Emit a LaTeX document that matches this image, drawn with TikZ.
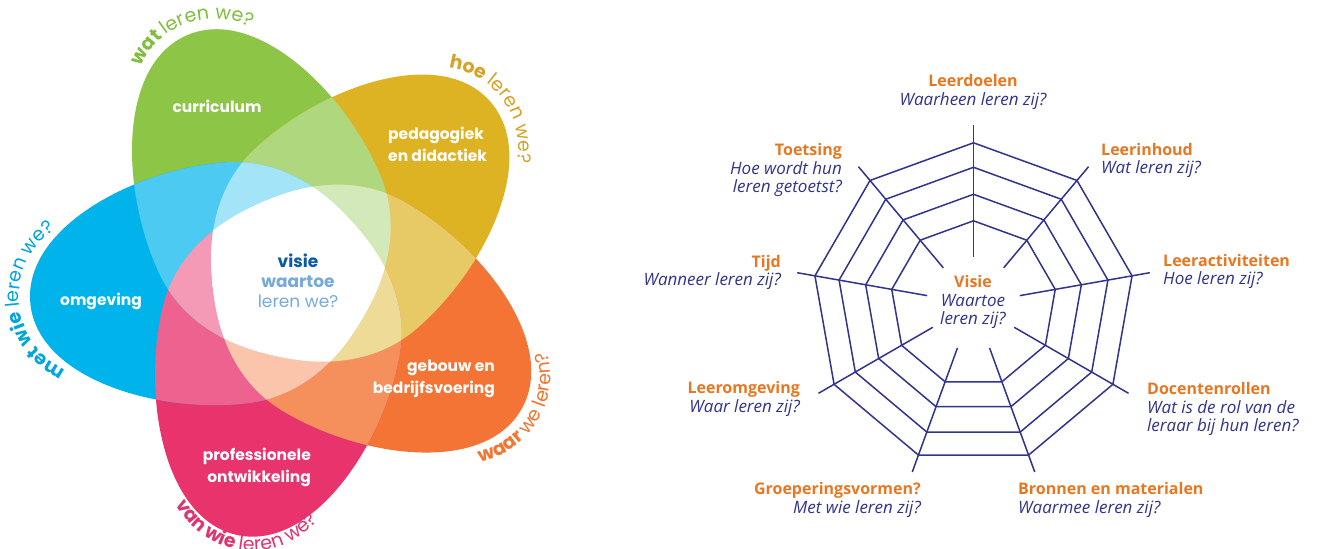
\documentclass[tikz,border=0pt]{standalone}
\usepackage{fontspec}
\setmainfont{Open Sans}
\newfontfamily\pop{Poppins}
\usetikzlibrary{decorations.text}
\definecolor{cG}{RGB}{141,198,70}
\definecolor{cY}{RGB}{221,178,35}
\definecolor{cO}{RGB}{243,116,53}
\definecolor{cP}{RGB}{232,51,109}
\definecolor{cB}{RGB}{0,180,235}
\definecolor{lG}{RGB}{128,190,60}
\definecolor{lY}{RGB}{212,163,40}
\definecolor{lO}{RGB}{240,118,50}
\definecolor{lP}{RGB}{222,52,112}
\definecolor{lB}{RGB}{0,165,220}
\definecolor{visD}{RGB}{10,90,165}
\definecolor{visL}{RGB}{118,170,218}
\definecolor{webC}{RGB}{48,52,140}
\definecolor{webO}{RGB}{232,119,34}
\newcommand\petal[1]{[shift={(293,272)},rotate=#1] (-90,0) .. controls (-72,50) and (-20,121) .. (60,121) .. controls (150,122) and (264,75) .. (264,0) .. controls (264,-75) and (150,-122) .. (60,-121) .. controls (-20,-121) and (-72,-50) .. (-90,0) -- cycle}
\def\aG{113.8}\def\aY{41.8}\def\aO{-30.2}\def\aP{-102.2}\def\aB{-174.2}
\newcommand\lfont{\pop\fontsize{19}{19}\selectfont}
\tikzset{
  ptext/.style={text=white, font=\pop\bfseries\fontsize{15.5}{22}\selectfont, inner sep=0pt},
  wlab/.style={text=webC, font=\fontsize{17}{18.6}\selectfont\itshape, inner sep=0pt},
  webline/.style={draw=webC, line width=1.5pt},
}
\newcommand\ttl[1]{{\fontsize{16}{18.6}\selectfont\textcolor{webO}{\upshape\bfseries #1}}}
\begin{document}
\begin{tikzpicture}[x=1pt,y=1pt]
\useasboundingbox (0,0) rectangle (1318,549);
\fill[white] (0,0) rectangle (1318,549);
% ---------- flower: single petals ----------
\fill[cG]\petal{\aG};
\fill[cY]\petal{\aY};
\fill[cO]\petal{\aO};
\fill[cP]\petal{\aP};
\fill[cB]\petal{\aB};
% ---------- two overlaps ----------
\begin{scope}\clip\petal{\aG};\fill[cG!70!white]\petal{\aY};\end{scope}
\begin{scope}\clip\petal{\aY};\fill[cY!70!white]\petal{\aO};\end{scope}
\begin{scope}\clip\petal{\aO};\fill[cO!80!white]\petal{\aP};\end{scope}
\begin{scope}\clip\petal{\aP};\fill[cP!77!white]\petal{\aB};\end{scope}
\begin{scope}\clip\petal{\aB};\fill[cB!70!white]\petal{\aG};\end{scope}
% ---------- three overlaps ----------
\begin{scope}\clip\petal{\aG};\clip\petal{\aY};\fill[cG!38!white]\petal{\aO};\end{scope}
\begin{scope}\clip\petal{\aY};\clip\petal{\aO};\fill[cY!47!white]\petal{\aP};\end{scope}
\begin{scope}\clip\petal{\aO};\clip\petal{\aP};\fill[cO!42!white]\petal{\aB};\end{scope}
\begin{scope}\clip\petal{\aP};\clip\petal{\aB};\fill[cP!50!white]\petal{\aG};\end{scope}
\begin{scope}\clip\petal{\aB};\clip\petal{\aG};\fill[cB!36!white]\petal{\aY};\end{scope}
% ---------- four or five overlaps ----------
\begin{scope}\clip\petal{\aG};\clip\petal{\aY};\clip\petal{\aO};\fill[white]\petal{\aP};\end{scope}
\begin{scope}\clip\petal{\aY};\clip\petal{\aO};\clip\petal{\aP};\fill[white]\petal{\aB};\end{scope}
\begin{scope}\clip\petal{\aO};\clip\petal{\aP};\clip\petal{\aB};\fill[white]\petal{\aG};\end{scope}
\begin{scope}\clip\petal{\aP};\clip\petal{\aB};\clip\petal{\aG};\fill[white]\petal{\aY};\end{scope}
\begin{scope}\clip\petal{\aB};\clip\petal{\aG};\clip\petal{\aY};\fill[white]\petal{\aO};\end{scope}
% ---------- petal texts ----------
\node[ptext] (curr) at (217,443) {curriculum};
\node[ptext, anchor=west, align=left] (peda) at (388,404.5) {pedagogiek\\en didactiek};
\node[ptext] (omg) at (101,248) {omgeving};
\node[ptext, anchor=east, align=right] (geb) at (495,170) {gebouw en\\bedrijfsvoering};
\node[ptext, anchor=east, align=right] (prof) at (311,81.5) {professionele\\ontwikkeling};
\node[inner sep=0pt, align=center, font=\pop\fontsize{17}{20}\selectfont] (visie) at (298,268)
  {\textcolor{visD}{\bfseries visie}\\\textcolor{visL}{\bfseries waartoe}\\\textcolor{visL}{leren we?}};
% ---------- curved labels ----------
\path[decorate, decoration={text along path, text align=center,
  text={|\lfont\bfseries\color{lG}|wat |\lfont\color{lG}|leren we?}}]
  [shift={(293,272)},rotate=\aG] (195,0) ++(50:80) arc[start angle=50, end angle=-58, radius=80];
\path[decorate, decoration={text along path, text align=center,
  text={|\lfont\bfseries\color{lY}|hoe |\lfont\color{lY}|leren we?}}]
  [shift={(293,272)},rotate=\aY] (195,0) ++(44:80) arc[start angle=44, end angle=-56, radius=80];
\path[decorate, decoration={text along path, text align=center,
  text={|\lfont\bfseries\color{lO}|waar |\lfont\color{lO}|we leren?}}]
  [shift={(293,272)},rotate=\aO] (195,0) ++(-68:89) arc[start angle=-68, end angle=66, radius=89];
\path[decorate, decoration={text along path, text align=center,
  text={|\lfont\bfseries\color{lP}|van wie |\lfont\color{lP}|leren we?}}]
  [shift={(293,272)},rotate=\aP] (192,0) ++(-76:86) arc[start angle=-76, end angle=88, radius=86];
\path[decorate, decoration={text along path, text align=center,
  text={|\lfont\bfseries\color{lB}|met wie |\lfont\color{lB}|leren we?}}]
  [shift={(293,272)},rotate=\aB] (195,0) ++(70:80) arc[start angle=70, end angle=-73, radius=80];
% ---------- spider web ----------
\begin{scope}[shift={(973.5,245.2)}]
  \foreach \r in {83,109.5,136.5,161}
    \draw[webline, line join=miter] (90:\r) \foreach \a in {130,170,...,410} { -- (\a:\r) } -- cycle;
  \foreach \a in {90,130,...,410}
    \draw[webline] (\a:47) -- (\a:179);
\end{scope}
\node[wlab, align=center] (doel) at (973,457) {\ttl{Leerdoelen}\\Waarheen leren zij?};
\node[wlab, align=right, anchor=east] (toets) at (842,379) {\ttl{Toetsing}\\Hoe wordt hun\\leren getoetst?};
\node[wlab, align=left, anchor=west] (inh) at (1101,388.5) {\ttl{Leerinhoud}\\Wat leren zij?};
\node[wlab, align=right, anchor=east] (tijd) at (781,276.5) {\ttl{Tijd}\\Wanneer leren zij?};
\node[wlab, align=left, anchor=west] (act) at (1163,277.5) {\ttl{Leeractiviteiten}\\Hoe leren zij?};
\node[wlab, align=right, anchor=east] (omgw) at (800,150) {\ttl{Leeromgeving}\\Waar leren zij?};
\node[wlab, align=left, anchor=west] (doc) at (1147,140) {\ttl{Docentenrollen}\\Wat is de rol van de\\leraar bij hun leren?};
\node[wlab, align=right, anchor=east] (groep) at (921,49) {\ttl{Groeperingsvormen?}\\Met wie leren zij?};
\node[wlab, align=left, anchor=west] (bron) at (1018,49) {\ttl{Bronnen en materialen}\\Waarmee leren zij?};
\node[wlab, align=center] (wvis) at (973,247) {\ttl{Visie}\\Waartoe\\leren zij?};
\end{tikzpicture}
\end{document}
